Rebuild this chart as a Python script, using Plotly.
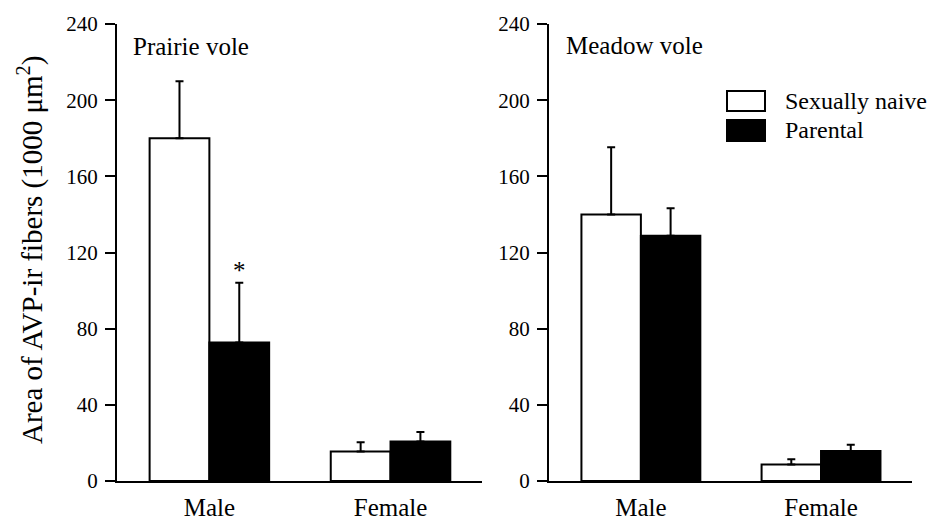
import plotly.graph_objects as go

W, H = 935, 516

categories = ["Male", "Female"]
series_names = ["Sexually naive", "Parental"]
yticks = [0, 40, 80, 120, 160, 200, 240]

prairie_naive = [180.0, 15.5]
prairie_naive_err = [30.0, 4.8]
prairie_parental = [72.8, 20.7]
prairie_parental_err = [31.3, 5.0]

meadow_naive = [140.0, 8.7]
meadow_naive_err = [35.3, 2.7]
meadow_parental = [128.8, 15.8]
meadow_parental_err = [14.4, 3.3]

panel_titles = ["Prairie vole", "Meadow vole"]
y_title = "Area of AVP-ir fibers (1000 \u03bcm<sup>2</sup>)"

FONT = "Liberation Serif, Times New Roman, serif"


def px(x):
    return x / W


def py(y):
    return 1 - y / H


fig = go.Figure()


def add_bar(name, y, err, fill, xa, ya):
    fig.add_trace(go.Bar(
        name=name, x=categories, y=y, xaxis=xa, yaxis=ya,
        marker=dict(color=fill, line=dict(color="black", width=2)),
        error_y=dict(type="data", symmetric=False, array=err,
                     arrayminus=[0] * len(err), color="black",
                     thickness=2, width=4),
        showlegend=False,
    ))


add_bar(series_names[0], prairie_naive, prairie_naive_err, "white", "x", "y")
add_bar(series_names[1], prairie_parental, prairie_parental_err, "black", "x", "y")
add_bar(series_names[0], meadow_naive, meadow_naive_err, "white", "x2", "y2")
add_bar(series_names[1], meadow_parental, meadow_parental_err, "black", "x2", "y2")

ydom = [py(481), py(24)]
xcommon = dict(type="category", showline=True, linewidth=2, linecolor="black",
               ticks="", showgrid=False, zeroline=False, automargin=False,
               tickfont=dict(family=FONT, size=25, color="black"),
               ticklabelstandoff=3, range=[-0.51, 1.505])
ycommon = dict(range=[0, 240], tickvals=yticks, showline=True, linewidth=2,
               linecolor="black", ticks="outside", ticklen=10, tickwidth=2,
               tickcolor="black", showgrid=False, zeroline=False,
               automargin=False,
               tickfont=dict(family=FONT, size=21, color="black"),
               ticklabelstandoff=3, domain=ydom)

fig.update_layout(
    template="none",
    width=W, height=H,
    margin=dict(l=0, r=0, t=0, b=0, pad=0, autoexpand=False),
    paper_bgcolor="white", plot_bgcolor="white",
    barmode="group", bargap=0.34, bargroupgap=0,
    font=dict(family=FONT, color="black"),
    showlegend=False,
    xaxis=dict(domain=[px(117), px(482)], anchor="y", **xcommon),
    yaxis=dict(anchor="x", **ycommon),
    xaxis2=dict(domain=[px(549), px(912)], anchor="y2", **xcommon),
    yaxis2=dict(anchor="x2", **ycommon),
)

annotations = [
    dict(text=panel_titles[0], x=px(131), y=py(46), xref="paper", yref="paper",
         xanchor="left", yanchor="middle", showarrow=False,
         font=dict(family=FONT, size=25, color="black")),
    dict(text=panel_titles[1], x=px(564), y=py(45), xref="paper", yref="paper",
         xanchor="left", yanchor="middle", showarrow=False,
         font=dict(family=FONT, size=25, color="black")),
    dict(text=y_title, x=px(30), y=py(250), xref="paper", yref="paper",
         xanchor="center", yanchor="middle", textangle=-90, showarrow=False,
         font=dict(family=FONT, size=29, color="black")),
    dict(text="*", x=0.165, y=prairie_parental[0] + prairie_parental_err[0],
         xref="x", yref="y", xanchor="center", yanchor="bottom", yshift=-3,
         showarrow=False, font=dict(family=FONT, size=25, color="black")),
    dict(text=series_names[0], x=px(783), y=py(101), xref="paper", yref="paper",
         xanchor="left", yanchor="middle", showarrow=False,
         font=dict(family=FONT, size=24, color="black")),
    dict(text=series_names[1], x=px(783), y=py(130), xref="paper", yref="paper",
         xanchor="left", yanchor="middle", showarrow=False,
         font=dict(family=FONT, size=24, color="black")),
]
fig.update_layout(annotations=annotations)

shapes = [
    dict(type="rect", xref="paper", yref="paper", x0=px(727), x1=px(765),
         y0=py(111), y1=py(91), fillcolor="white",
         line=dict(color="black", width=2)),
    dict(type="rect", xref="paper", yref="paper", x0=px(727), x1=px(765),
         y0=py(141), y1=py(120), fillcolor="black",
         line=dict(color="black", width=2)),
]
fig.update_layout(shapes=shapes)

fig.write_html("out.html")
